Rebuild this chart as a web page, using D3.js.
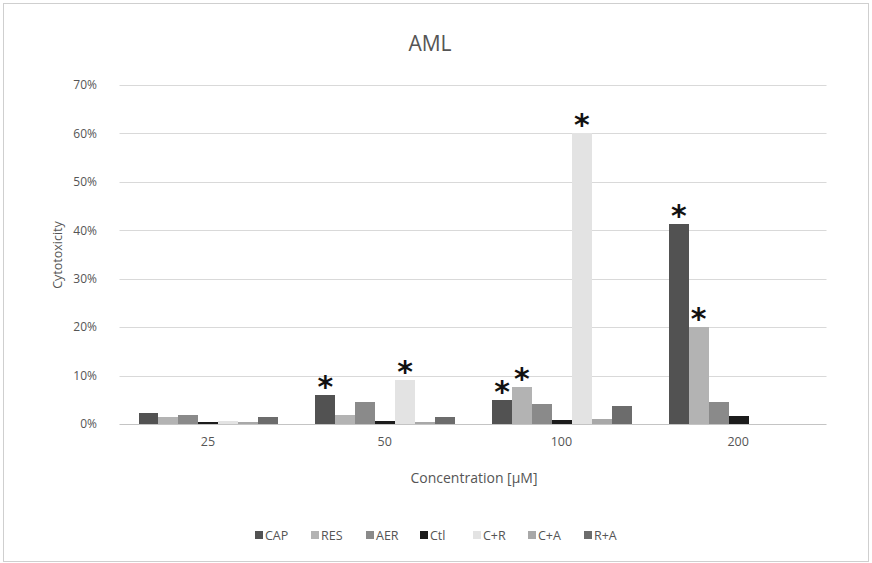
<!DOCTYPE html>
<html>
<head>
<meta charset="utf-8">
<script src="https://cdn.jsdelivr.net/npm/d3@7"></script>
<style>
  html, body { margin: 0; padding: 0; background: #fff; }
  svg { display: block; font-family: "Open Sans", "Liberation Sans", sans-serif; }
</style>
</head>
<body>
<div id="chart"></div>
<script>
// Chart data
const concentrations = ['25', '50', '100', '200'];
const treatments = ['CAP', 'RES', 'AER', 'Ctl', 'C+R', 'C+A', 'R+A'];
const capValues = [0.022, 0.060, 0.049, 0.414];
const resValues = [0.015, 0.018, 0.076, 0.200];
const aerValues = [0.018, 0.045, 0.041, 0.045];
const ctlValues = [0.004, 0.006, 0.008, 0.016];
const crValues  = [0.006, 0.090, 0.600, 0];
const caValues  = [0.004, 0.005, 0.010, 0];
const raValues  = [0.014, 0.015, 0.037, 0];
// significance marks: [concentration, treatment]
const starred = [['50', 'CAP'], ['50', 'C+R'], ['100', 'CAP'], ['100', 'RES'], ['100', 'C+R'], ['200', 'CAP'], ['200', 'RES']];
const yTicks = [0, 0.1, 0.2, 0.3, 0.4, 0.5, 0.6, 0.7];

const seriesValues = [capValues, resValues, aerValues, ctlValues, crValues, caValues, raValues];
const colors = ['#525252', '#b3b3b3', '#8a8a8a', '#1c1c1c', '#e3e3e3', '#a8a8a8', '#6c6c6c'];

const width = 872, height = 563;

const svg = d3.select('#chart')
  .append('svg')
    .attr('width', width)
    .attr('height', height);

// outer frame
svg.append('rect')
  .attr('x', 3.5).attr('y', 3.5)
  .attr('width', width - 7).attr('height', height - 5)
  .attr('fill', '#fff')
  .attr('stroke', '#cfcfcf');

// Scales
const xScale = d3.scaleBand()
  .domain(concentrations)
  .range([119.5, 826.5])
  .padding(0);

const xInner = d3.scaleBand()
  .domain(treatments)
  .range([19, xScale.bandwidth() - 18])
  .padding(0);

const yScale = d3.scaleLinear()
  .domain([0, 0.7])
  .range([424, 85]);

// Gridlines
svg.append('g')
  .selectAll('line')
  .data(yTicks)
  .join('line')
    .attr('x1', 119.5).attr('x2', 826.5)
    .attr('y1', d => Math.round(yScale(d)) + 0.5)
    .attr('y2', d => Math.round(yScale(d)) + 0.5)
    .attr('stroke', d => d === 0 ? '#c4c4c4' : '#d9d9d9')
    .attr('stroke-width', 1.2);

// Y axis labels
svg.append('g')
  .attr('transform', 'translate(100,0)')
  .call(d3.axisLeft(yScale).tickValues(yTicks).tickFormat(d3.format('.0%')).tickSize(0))
  .call(g => g.select('.domain').remove())
  .call(g => g.selectAll('text')
    .attr('fill', '#555')
    .style('font-size', '12px')
    .style('font-family', '"Open Sans", sans-serif'));

// X axis labels
svg.append('g')
  .attr('transform', 'translate(0,432)')
  .call(d3.axisBottom(xScale).tickSize(0))
  .call(g => g.select('.domain').remove())
  .call(g => g.selectAll('text')
    .attr('fill', '#555')
    .attr('dy', '0.9em')
    .style('font-size', '12.5px')
    .style('font-family', '"Open Sans", sans-serif'));

// Bars
const barData = [];
concentrations.forEach((c, ci) => {
  treatments.forEach((t, ti) => {
    barData.push({ conc: c, treat: t, value: seriesValues[ti][ci], color: colors[ti] });
  });
});

svg.append('g')
  .selectAll('rect')
  .data(barData)
  .join('rect')
    .attr('shape-rendering', 'crispEdges')
    .attr('x', d => xScale(d.conc) + xInner(d.treat))
    .attr('y', d => yScale(d.value))
    .attr('width', xInner.bandwidth())
    .attr('height', d => yScale(0) - yScale(d.value))
    .attr('fill', d => d.color);

// Asterisks
svg.append('g')
  .selectAll('text')
  .data(starred.map(([c, t]) => barData.find(b => b.conc === c && b.treat === t)))
  .join('text')
    .attr('x', d => xScale(d.conc) + xInner(d.treat) + xInner.bandwidth() / 2)
    .attr('y', d => yScale(d.value) + 2)
    .attr('text-anchor', 'middle')
    .attr('fill', '#111')
    .style('font-size', '30px')
    .style('font-weight', 'bold')
    .style('font-family', '"DejaVu Sans", sans-serif')
    .text('*');

// Title
svg.append('text')
  .attr('x', 430).attr('y', 51)
  .attr('text-anchor', 'middle')
  .attr('fill', '#555')
  .style('font-size', '21px')
  .text('AML');

// Axis titles
svg.append('text')
  .attr('transform', 'translate(62,255) rotate(-90)')
  .attr('text-anchor', 'middle')
  .attr('fill', '#555')
  .style('font-size', '12.5px')
  .text('Cytotoxicity');

svg.append('text')
  .attr('x', 474).attr('y', 483)
  .attr('text-anchor', 'middle')
  .attr('fill', '#555')
  .style('font-size', '14px')
  .text('Concentration [\u00b5M]');

// Legend
const legendX = [255, 311, 366, 420, 473, 528, 584];
const legend = svg.append('g')
  .selectAll('g')
  .data(treatments)
  .join('g')
    .attr('transform', (d, i) => `translate(${legendX[i]},535)`);

legend.append('rect')
  .attr('x', 0).attr('y', -4)
  .attr('width', 8).attr('height', 8)
  .attr('fill', (d, i) => colors[i]);

legend.append('text')
  .attr('x', 10).attr('y', 4.5)
  .attr('fill', '#555')
  .style('font-size', '12.5px')
  .text(d => d);
</script>
</body>
</html>
